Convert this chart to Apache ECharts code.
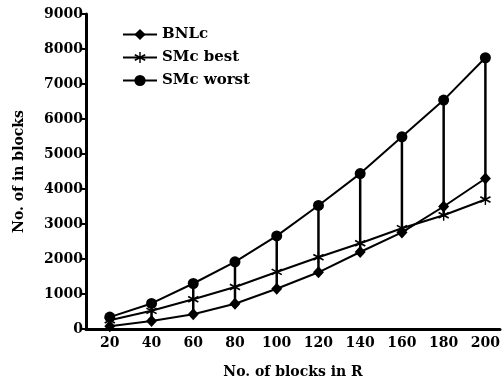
<!DOCTYPE html>
<html>
<head>
<meta charset="utf-8">
<script src="https://cdn.jsdelivr.net/npm/echarts@6/dist/echarts.min.js"></script>
<style>html,body{margin:0;padding:0;background:#fff}#c{width:503px;height:387px}</style>
</head>
<body>
<div id="c"></div>
<script>
var blocksR = [20, 40, 60, 80, 100, 120, 140, 160, 180, 200];
var bnlc = [80, 230, 420, 720, 1150, 1620, 2200, 2760, 3500, 4300];
var smcBest = [250, 520, 850, 1200, 1630, 2050, 2450, 2880, 3250, 3700];
var smcWorst = [340, 730, 1300, 1920, 2660, 3530, 4440, 5490, 6540, 7750];
var yTicks = [0, 1000, 2000, 3000, 4000, 5000, 6000, 7000, 8000, 9000];

var FONT = 'DejaVu Serif';
var asterisk = 'path://M4.4,0L5.6,0L5.6,10L4.4,10Z M1.02,8.11L0.32,6.89L8.98,1.89L9.68,3.11Z M0.32,3.11L1.02,1.89L9.68,6.89L8.98,8.11Z';

function pairs(arr) { return blocksR.map(function (x, i) { return [x, arr[i]]; }); }
var rangeData = blocksR.map(function (x, i) {
  return [x, smcWorst[i], Math.min(bnlc[i], smcBest[i])];
});

var chart = echarts.init(document.getElementById('c'), null, { renderer: 'canvas' });
chart.setOption({
  backgroundColor: '#fff',
  animation: false,
  textStyle: { fontFamily: FONT, color: '#000' },
  grid: { left: 86, right: 0, top: 14, bottom: 58, containLabel: false },
  legend: {
    orient: 'vertical', left: 117, top: 22,
    itemWidth: 34, itemHeight: 14, itemGap: 8,
    data: ['BNLc', 'SMc best', 'SMc worst'],
    textStyle: { fontFamily: FONT, fontWeight: 'bold', fontSize: 15, color: '#000' }
  },
  xAxis: {
    type: 'value', min: 8.6, max: 207,
    name: 'No. of blocks in R', nameLocation: 'middle', nameGap: 36,
    nameTextStyle: { fontFamily: FONT, fontWeight: 'bold', fontSize: 14, color: '#000' },
    axisLine: { show: true, lineStyle: { color: '#000', width: 3 } },
    axisTick: { show: false },
    splitLine: { show: false },
    axisLabel: { customValues: blocksR, margin: 7, fontFamily: FONT, fontWeight: 'bold', fontSize: 14, color: '#000' }
  },
  yAxis: {
    type: 'value', min: 0, max: 9000, interval: 1000,
    name: 'No. of in blocks', nameLocation: 'middle', nameGap: 60,
    nameTextStyle: { fontFamily: FONT, fontWeight: 'bold', fontSize: 14, color: '#000' },
    axisLine: { show: true, lineStyle: { color: '#000', width: 3 } },
    axisTick: { show: true, length: 6, lineStyle: { color: '#000', width: 2 } },
    splitLine: { show: false },
    axisLabel: { margin: 3, fontFamily: FONT, fontWeight: 'bold', fontSize: 14, color: '#000',
      formatter: function (v) { return yTicks.indexOf(v) >= 0 ? String(v) : ''; } }
  },
  series: [
    {
      type: 'custom', name: 'range', data: rangeData, z: 1,
      encode: { x: 0, y: [1, 2] },
      renderItem: function (params, api) {
        var p1 = api.coord([api.value(0), api.value(1)]);
        var p2 = api.coord([api.value(0), api.value(2)]);
        return { type: 'line', shape: { x1: p1[0], y1: p1[1], x2: p2[0], y2: p2[1] },
          style: { stroke: '#000', lineWidth: 2.5 } };
      }
    },
    {
      type: 'line', name: 'BNLc', data: pairs(bnlc), z: 3,
      symbol: 'diamond', symbolSize: [11, 12], showAllSymbol: true,
      itemStyle: { color: '#000' }, lineStyle: { color: '#000', width: 2 }
    },
    {
      type: 'line', name: 'SMc best', data: pairs(smcBest), z: 3,
      symbol: asterisk, symbolSize: 11, showAllSymbol: true,
      itemStyle: { color: '#000' }, lineStyle: { color: '#000', width: 2 }
    },
    {
      type: 'line', name: 'SMc worst', data: pairs(smcWorst), z: 3,
      symbol: 'circle', symbolSize: 11, showAllSymbol: true,
      itemStyle: { color: '#000' }, lineStyle: { color: '#000', width: 2 }
    }
  ]
});
</script>
</body>
</html>
